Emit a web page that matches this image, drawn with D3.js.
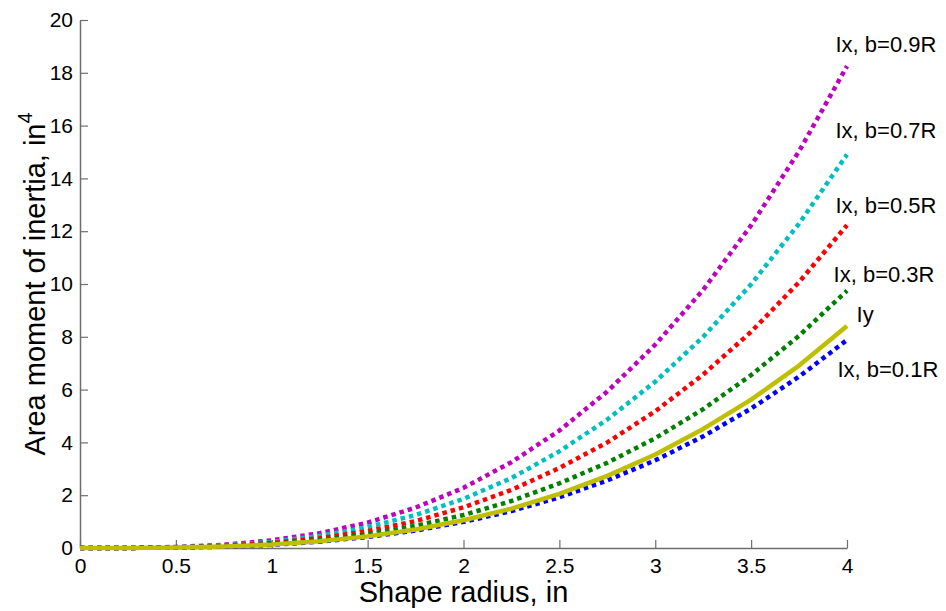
<!DOCTYPE html>
<html>
<head>
<meta charset="utf-8">
<script src="https://cdn.jsdelivr.net/npm/d3@7"></script>
<style>
  body { margin: 0; background: #fff; }
  svg { font-family: "Liberation Sans", Arial, sans-serif; }
</style>
</head>
<body>
<svg id="chart"></svg>
<script>
(function() {

  // shape radius, in
  const radius = [0, 0.25, 0.5, 0.75, 1, 1.25, 1.5, 1.75, 2, 2.25, 2.5, 2.75, 3, 3.25, 3.5, 3.75, 4];

  // area moment of inertia, in^4
  const ix09 = [0, 0.00, 0.04, 0.12, 0.29, 0.56, 0.96, 1.53, 2.28, 3.25, 4.45, 5.93, 7.70, 9.78, 12.22, 15.03, 18.25];
  const ix07 = [0, 0.00, 0.03, 0.10, 0.23, 0.46, 0.79, 1.25, 1.86, 2.65, 3.66, 4.87, 6.30, 8.00, 9.99, 12.29, 14.90];
  const ix05 = [0, 0.00, 0.02, 0.08, 0.19, 0.37, 0.64, 1.02, 1.54, 2.20, 3.03, 4.00, 5.18, 6.57, 8.19, 10.07, 12.23];
  const ix03 = [0, 0.00, 0.02, 0.06, 0.15, 0.30, 0.52, 0.84, 1.25, 1.78, 2.45, 3.23, 4.16, 5.26, 6.55, 8.04, 9.75];
  const iy   = [0, 0.00, 0.02, 0.06, 0.13, 0.26, 0.44, 0.70, 1.05, 1.49, 2.05, 2.73, 3.54, 4.51, 5.62, 6.91, 8.41];
  const ix01 = [0, 0.00, 0.02, 0.05, 0.12, 0.24, 0.42, 0.66, 0.99, 1.40, 1.92, 2.56, 3.32, 4.23, 5.28, 6.49, 7.88];

  const xTicks = [0, 0.5, 1, 1.5, 2, 2.5, 3, 3.5, 4];
  const yTicks = [0, 2, 4, 6, 8, 10, 12, 14, 16, 18, 20];

  const seriesNames = ['Ix, b=0.9R', 'Ix, b=0.7R', 'Ix, b=0.5R', 'Ix, b=0.3R', 'Ix, b=0.1R', 'Iy'];
  const seriesValues = [ix09, ix07, ix05, ix03, ix01, iy];
  const seriesColors = ['#bf00bf', '#00bfbf', '#ff0000', '#008000', '#0000ff', '#bfbf00'];

  // text annotations, placed in data units like MATLAB text()
  const labelX = [3.94, 3.94, 3.94, 3.93, 3.95, 4.05];
  const labelY = [18.8, 15.53, 12.7, 10.09, 6.49, 8.57];

  const width = 946;
  const height = 611;
  const margin = { left: 80, right: 99, top: 20, bottom: 63 };

  const svg = d3.select('#chart')
    .attr('width', width)
    .attr('height', height);

  const x = d3.scaleLinear().domain([0, 4]).range([margin.left, width - margin.right]);
  const y = d3.scaleLinear().domain([0, 20]).range([height - margin.bottom, margin.top]);

  const axisColor = '#6e6e6e';

  const xAxis = svg.append('g')
    .attr('transform', 'translate(0,' + y(0) + ')')
    .call(d3.axisBottom(x).tickValues(xTicks).tickFormat(d3.format('')).tickSizeInner(-8).tickSizeOuter(0).tickPadding(10));

  const yAxis = svg.append('g')
    .attr('transform', 'translate(' + x(0) + ',0)')
    .call(d3.axisLeft(y).tickValues(yTicks).tickSizeInner(-8).tickSizeOuter(0).tickPadding(7));

  [xAxis, yAxis].forEach(function(g) {
    g.select('.domain').attr('stroke', axisColor).attr('stroke-width', 1.5);
    g.selectAll('.tick line').attr('stroke', axisColor).attr('stroke-width', 1.2);
    g.selectAll('.tick text')
      .attr('fill', '#000')
      .style('font-size', '21px')
      .style('font-family', '"Liberation Sans", Arial, sans-serif');
  });

  const line = d3.line()
    .x(function(d) { return x(d[0]); })
    .y(function(d) { return y(d[1]); });

  const plot = svg.append('g');

  seriesValues.forEach(function(vals, i) {
    const pts = radius.map(function(r, j) { return [r, vals[j]]; });
    const solid = seriesNames[i] === 'Iy';
    plot.append('path')
      .datum(pts)
      .attr('d', line)
      .attr('fill', 'none')
      .attr('stroke', seriesColors[i])
      .attr('stroke-width', solid ? 4.5 : 4.5)
      .attr('stroke-dasharray', solid ? null : '4.5,4')
      .attr('stroke-linejoin', 'round');
  });

  svg.append('g').selectAll('text')
    .data(seriesNames)
    .enter()
    .append('text')
    .attr('x', function(d, i) { return x(labelX[i]); })
    .attr('y', function(d, i) { return y(labelY[i]); })
    .style('font-size', '22px')
    .text(function(d) { return d; });

  svg.append('text')
    .attr('x', (x(0) + x(4)) / 2)
    .attr('y', 602)
    .attr('text-anchor', 'middle')
    .style('font-size', '29px')
    .text('Shape radius, in');

  const yLabel = svg.append('text')
    .attr('transform', 'translate(45,' + (y(0) + y(20)) / 2 + ') rotate(-90)')
    .attr('text-anchor', 'middle')
    .style('font-size', '29px');
  yLabel.append('tspan').text('Area moment of inertia, in');
  yLabel.append('tspan').attr('dy', -13).style('font-size', '20px').text('4');

})();
</script>
</body>
</html>
